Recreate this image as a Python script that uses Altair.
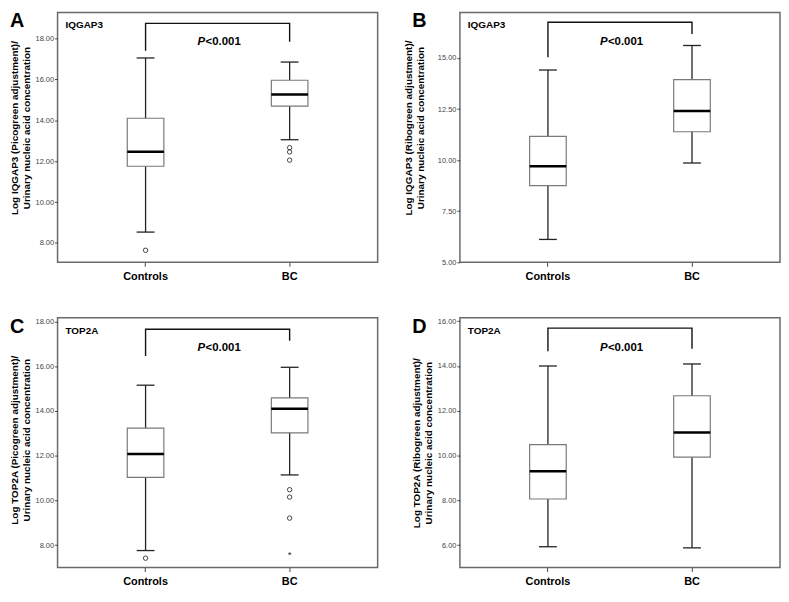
import altair as alt
import pandas as pd

FONT = "Liberation Sans"
groups = ["Controls", "BC"]

# ---- Panel A: IQGAP3 (Picogreen) ----
a_low = [8.53, 13.05]
a_q1 = [11.75, 14.69]
a_med = [12.46, 15.26]
a_q3 = [14.10, 15.96]
a_high = [17.05, 16.85]
a_out_group = ["Controls", "BC", "BC", "BC"]
a_out_value = [7.64, 12.66, 12.45, 12.05]
a_bracket = [17.40, 18.74, 18.74, 17.84]
a_ticks = [8, 10, 12, 14, 16, 18]

# ---- Panel B: IQGAP3 (Ribogreen) ----
b_low = [6.12, 9.86]
b_q1 = [8.75, 11.39]
b_med = [9.70, 12.41]
b_q3 = [11.16, 13.94]
b_high = [14.41, 15.61]
b_out_group = []
b_out_value = []
b_bracket = [15.03, 16.75, 16.75, 16.17]
b_ticks = [5, 7.5, 10, 12.5, 15]

# ---- Panel C: TOP2A (Picogreen) ----
c_low = [7.76, 11.14]
c_q1 = [11.03, 13.02]
c_med = [12.08, 14.10]
c_q3 = [13.23, 14.58]
c_high = [15.15, 15.95]
c_out_group = ["Controls", "BC", "BC", "BC"]
c_out_value = [7.42, 10.48, 10.15, 9.21]
c_ext_group = ["BC"]
c_ext_value = [7.67]
c_bracket = [16.45, 17.65, 17.65, 17.14]
c_ticks = [8, 10, 12, 14, 16, 18]

# ---- Panel D: TOP2A (Ribogreen) ----
d_low = [5.93, 5.88]
d_q1 = [8.06, 9.93]
d_med = [9.30, 11.03]
d_q3 = [10.49, 12.67]
d_high = [14.00, 14.09]
d_out_group = []
d_out_value = []
d_bracket = [14.66, 15.69, 15.69, 14.77]
d_ticks = [6, 8, 10, 12, 14, 16]

bracket_group = ["Controls", "Controls", "BC", "BC"]

W, H = 323, 252


def panel(letter, gene, ytitle, dom, ticks, low, q1, med, q3, high,
          out_g, out_v, bracket, title_pad, title_y, ext_g=None, ext_v=None):
    box = pd.DataFrame({"group": groups, "low": low, "q1": q1, "med": med,
                        "q3": q3, "high": high})
    xscale = alt.Scale(domain=groups, paddingInner=0.746, paddingOuter=0.484)
    xaxis = alt.Axis(title=None, labelAngle=0, labelFont=FONT, labelFontSize=11,
                     labelFontWeight="bold", labelColor="#000", tickSize=4,
                     tickColor="#444", domain=False, labelPadding=4, grid=False)
    yscale = alt.Scale(domain=dom, nice=False, zero=False)
    yaxis = alt.Axis(values=ticks, format=".2f", title=ytitle, grid=False, domain=False,
                     tickSize=3, tickColor="#444", labelFont=FONT, labelFontSize=7.5,
                     labelColor="#444", labelPadding=1, titleFont=FONT,
                     titleFontSize=10, titleFontWeight="bold", titleColor="#000",
                     titleLineHeight=12, titlePadding=title_pad, titleY=title_y)
    X = lambda: alt.X("group:N", scale=xscale, axis=xaxis)
    Y = lambda f: alt.Y(f, scale=yscale, axis=yaxis)

    whisk = alt.Chart(box).mark_rule(color="#222", strokeWidth=1.3).encode(
        x=X(), y=Y("low:Q"), y2="high:Q")
    boxes = alt.Chart(box).mark_bar(fill="white", stroke="#7a7a7a", strokeWidth=1.2).encode(
        x=X(), y=Y("q1:Q"), y2="q3:Q")
    medl = alt.Chart(box).mark_tick(color="#000", thickness=2.5, size=37, opacity=1).encode(
        x=X(), y=Y("med:Q"))
    capl = alt.Chart(box).mark_tick(color="#222", thickness=1.3, size=18, opacity=1).encode(
        x=X(), y=Y("low:Q"))
    caph = alt.Chart(box).mark_tick(color="#222", thickness=1.3, size=18, opacity=1).encode(
        x=X(), y=Y("high:Q"))
    layers = [whisk, boxes, medl, capl, caph]

    if out_g:
        od = pd.DataFrame({"group": out_g, "v": out_v})
        layers.append(alt.Chart(od).mark_point(shape="circle", filled=False, size=20,
                                               color="#444", strokeWidth=1, opacity=1).encode(
            x=X(), y=Y("v:Q")))
    if ext_g:
        ed = pd.DataFrame({"group": ext_g, "v": ext_v, "s": ["*"] * len(ext_g)})
        layers.append(alt.Chart(ed).mark_text(font=FONT, fontSize=10, color="#333",
                                              baseline="middle", dy=2).encode(
            x=X(), y=Y("v:Q"), text="s:N"))

    bd = pd.DataFrame({"group": bracket_group, "v": bracket, "o": [0, 1, 2, 3]})
    layers.append(alt.Chart(bd).mark_line(color="#111", strokeWidth=1.4).encode(
        x=X(), y=Y("v:Q"), order="o:Q"))

    lab = pd.DataFrame({"t": [letter]})
    layers.append(alt.Chart(lab).mark_text(font=FONT, fontSize=20, fontWeight="bold",
                                           align="left", baseline="top", color="#000").encode(
        x=alt.value(-48), y=alt.value(-1), text="t:N"))
    gd = pd.DataFrame({"t": [gene]})
    layers.append(alt.Chart(gd).mark_text(font=FONT, fontSize=10, fontWeight="bold",
                                          align="left", baseline="middle", color="#000").encode(
        x=alt.value(8), y=alt.value(13), text="t:N"))
    pd1 = pd.DataFrame({"t": ["P"]})
    layers.append(alt.Chart(pd1).mark_text(font=FONT, fontSize=11.5, fontWeight="bold",
                                           fontStyle="italic", align="right",
                                           baseline="middle", color="#000").encode(
        x=alt.value(W * 0.461), y=alt.value(30), text="t:N"))
    pd2 = pd.DataFrame({"t": ["<0.001"]})
    layers.append(alt.Chart(pd2).mark_text(font=FONT, fontSize=11.5, fontWeight="bold",
                                           align="left", baseline="middle", color="#000").encode(
        x=alt.value(W * 0.461 + 0.5), y=alt.value(30), text="t:N"))

    return alt.layer(*layers).properties(width=W, height=H)


A = panel("A", "IQGAP3", ["Log IQGAP3 (Picogreen adjustment)/", "Urinary nucleic acid concentration"],
          [7.05, 19.27], a_ticks, a_low, a_q1, a_med, a_q3, a_high,
          a_out_group, a_out_value, a_bracket, 4, 116)
B = panel("B", "IQGAP3", ["Log IQGAP3 (Ribogreen adjustment)/", "Urinary nucleic acid concentration"],
          [5.0, 17.22], b_ticks, b_low, b_q1, b_med, b_q3, b_high,
          b_out_group, b_out_value, b_bracket, 12, 116)
C = panel("C", "TOP2A", ["Log TOP2A (Picogreen adjustment)/", "Urinary nucleic acid concentration"],
          [7.0, 18.16], c_ticks, c_low, c_q1, c_med, c_q3, c_high,
          c_out_group, c_out_value, c_bracket, 4, 123, c_ext_group, c_ext_value)
D = panel("D", "TOP2A", ["Log TOP2A (Ribogreen adjustment)/", "Urinary nucleic acid concentration"],
          [5.0, 16.15], d_ticks, d_low, d_q1, d_med, d_q3, d_high,
          d_out_group, d_out_value, d_bracket, 4, 126)

chart = alt.concat(A, B, C, D, columns=2, spacing={"row": 56, "column": 83}).properties(
    bounds="flush", padding=0
).configure(background="white").configure_view(stroke="#6a6a6a", strokeWidth=1.5)

chart.save("out.html", embed_options={"renderer": "svg", "actions": False})
